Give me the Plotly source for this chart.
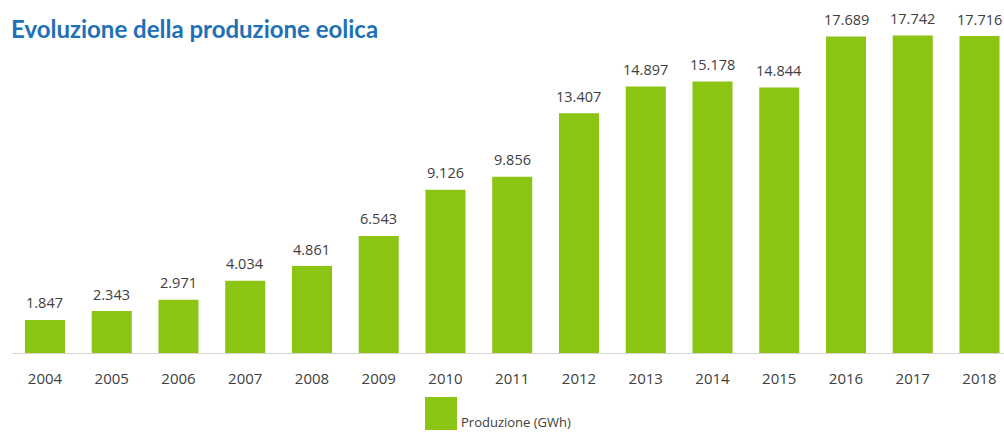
import plotly.graph_objects as go

# Annual wind power production (GWh)
years = ["2004", "2005", "2006", "2007", "2008", "2009", "2010", "2011",
         "2012", "2013", "2014", "2015", "2016", "2017", "2018"]
production_gwh = [1847, 2343, 2971, 4034, 4861, 6543, 9126, 9856,
                  13407, 14897, 15178, 14844, 17689, 17742, 17716]

title_text = "Evoluzione della produzione eolica"
legend_text = "Produzione (GWh)"

W, H = 1004, 432
M_L, M_R, M_T, M_B = 12, 0, 10, 79
plot_w = W - M_L - M_R
plot_h = H - M_T - M_B

BAR_COLOR = "#8cc414"
TEXT_COLOR = "#404040"
FONT = "Open Sans"


def it_number(v):
    return f"{v:,}".replace(",", ".")


fig = go.Figure()
fig.add_trace(go.Bar(
    x=list(range(len(years))),
    y=production_gwh,
    width=0.6,
    marker=dict(color=BAR_COLOR, line=dict(width=0)),
    showlegend=False,
    hoverinfo="skip",
))

# value labels above each bar
for i, v in enumerate(production_gwh):
    fig.add_annotation(
        x=i, y=v, xref="x", yref="y",
        text=it_number(v), showarrow=False,
        yanchor="middle", yshift=17,
        font=dict(family=FONT, size=14.5, color=TEXT_COLOR),
    )

# legend: swatch + label
def px_to_paper_x(px):
    return (px - M_L) / plot_w


def px_to_paper_y(py):
    return (H - M_B - py) / plot_h


fig.add_shape(
    type="rect", xref="paper", yref="paper",
    x0=px_to_paper_x(425), x1=px_to_paper_x(457),
    y0=px_to_paper_y(430), y1=px_to_paper_y(397),
    fillcolor=BAR_COLOR, line=dict(width=0),
)
fig.add_annotation(
    xref="paper", yref="paper",
    x=px_to_paper_x(459), y=px_to_paper_y(422),
    xanchor="left", yanchor="middle",
    text=legend_text, showarrow=False,
    font=dict(family=FONT, size=13, color=TEXT_COLOR),
)

fig.update_layout(
    width=W, height=H,
    margin=dict(l=M_L, r=M_R, t=M_T, b=M_B),
    paper_bgcolor="white", plot_bgcolor="white",
    title=dict(
        text=f"<b>{title_text}</b>",
        xref="container", yref="container",
        x=11 / W, y=1 - 30 / H, xanchor="left", yanchor="middle",
        font=dict(family="Lato", size=24, color="#1f70b6"),
    ),
    bargap=0.4,
)
fig.update_xaxes(
    range=[-0.494, 14.367],
    tickmode="array",
    tickvals=list(range(len(years))),
    ticktext=years,
    showgrid=False, zeroline=False,
    showline=True, linecolor="#d4d4d4", linewidth=1,
    ticks="outside", ticklen=12, tickcolor="rgba(0,0,0,0)",
    tickfont=dict(family=FONT, size=15, color=TEXT_COLOR),
)
fig.update_yaxes(
    range=[0, plot_h / 17.89 * 1000],
    visible=False, showgrid=False, zeroline=False,
)

fig.write_html("out.html")
